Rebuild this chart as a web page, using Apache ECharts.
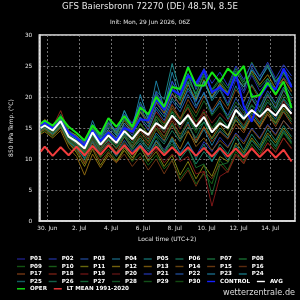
<!DOCTYPE html>
<html>
<head>
<meta charset="utf-8">
<script src="https://cdn.jsdelivr.net/npm/echarts@6/dist/echarts.min.js"></script>
<style>
  html, body { margin: 0; padding: 0; background: #000; }
  #chart { width: 300px; height: 300px; }
</style>
</head>
<body>
<div id="chart"></div>
<script>
// forecast lead times (hours after init 29 Jun 06Z = 08:00 local)
const leadHours = [6, 12, 24, 36, 48, 60, 72, 84, 96, 108, 120, 132, 144, 156, 168, 180, 192,
  204, 216, 228, 240, 252, 264, 276, 288, 300, 312, 324, 336, 348, 360, 372, 384];

const xTickLabels = ['30. Jun', '2. Jul', '4. Jul', '6. Jul', '8. Jul', '10. Jul', '12. Jul', '14. Jul'];

const oper = [15.7, 16.2, 15.4, 16.8, 15.2, 14.2, 13.0, 15.4, 14.0, 16.6, 15.2, 16.9, 15.2, 18.3, 17.2, 20.0, 18.4,
  21.6, 21.3, 24.8, 21.9, 21.8, 24.0, 22.4, 24.6, 23.4, 25.0, 20.0, 20.3, 22.3, 20.4, 22.5, 18.2];
const control = [15.3, 15.9, 14.9, 16.0, 14.3, 13.4, 12.2, 14.6, 12.9, 14.3, 13.0, 15.0, 14.4, 16.4, 16.2, 19.7, 17.9,
  21.2, 20.3, 23.5, 22.2, 24.3, 20.8, 21.6, 20.3, 23.8, 18.5, 16.0, 20.0, 22.0, 21.2, 24.6, 21.6];
const avg = [15.0, 15.4, 14.6, 16.1, 13.6, 12.8, 11.7, 14.3, 12.3, 13.8, 12.6, 14.5, 13.2, 14.8, 13.9, 15.8, 14.9,
  17.0, 15.6, 17.1, 15.2, 16.8, 14.3, 15.8, 15.0, 17.9, 16.5, 17.9, 16.8, 18.1, 17.0, 18.8, 17.3];
const ltMean = [11.2, 12.0, 10.5, 11.9, 10.6, 12.0, 10.6, 12.1, 10.7, 12.2, 10.8, 12.2, 10.8, 12.1, 10.7, 12.0, 10.6,
  11.9, 10.6, 11.9, 10.5, 11.8, 10.4, 11.8, 10.4, 11.7, 10.3, 11.7, 10.3, 11.6, 10.2, 11.5, 9.6];

const p01 = [15.2,15.8,14.8,16.4,14.0,13.2,12.0,14.8,12.6,14.5,13.0,15.8,14.2,17.5,15.6,19.0,17.2,20.5,18.6,21.0,19.2,22.4,19.8,21.5,19.0,22.8,20.6,23.5,21.0,22.6,20.4,23.2,21.5];
const p02 = [14.6,15.0,14.2,15.6,13.2,12.0,10.8,13.5,11.2,12.6,11.0,13.0,11.2,12.5,10.8,13.0,11.5,13.2,11.0,12.6,10.5,12.8,11.2,13.5,12.0,14.2,12.8,15.0,13.4,15.6,14.0,16.2,14.8];
const p03 = [15.0,15.6,14.6,16.2,13.8,13.4,12.6,15.0,13.2,15.2,13.8,16.6,14.8,18.2,16.0,20.4,18.0,22.6,20.2,25.0,21.2,24.2,20.5,22.0,20.2,23.6,21.0,24.8,22.6,25.2,22.0,24.6,22.8];
const p04 = [14.8,15.2,14.4,15.8,13.4,12.4,11.0,13.8,11.6,13.0,11.8,14.0,12.0,13.4,11.6,14.2,12.8,15.6,13.2,16.0,12.6,14.8,12.2,14.6,13.4,16.8,15.0,17.4,15.6,18.2,16.4,19.6,17.8];
const p05 = [15.4,16.0,15.0,16.6,14.2,13.6,12.8,15.6,13.6,16.0,14.4,17.8,15.2,19.2,16.4,21.0,19.6,25.4,21.0,23.8,20.0,22.6,19.4,21.2,18.6,21.8,19.2,22.0,20.0,23.0,20.6,22.4,20.2];
const p06 = [14.4,14.8,14.0,15.2,12.8,11.6,10.2,13.0,10.8,12.2,10.6,12.0,10.2,11.8,9.8,12.4,10.6,13.0,10.0,11.6,9.2,11.2,9.6,12.4,10.8,13.6,11.4,14.0,12.2,14.8,13.0,15.4,13.6];
const p07 = [15.0,15.4,14.4,16.0,13.4,12.6,11.2,14.0,11.8,13.4,12.2,14.2,12.6,15.0,13.2,16.4,14.2,17.6,15.0,16.8,14.6,16.0,13.2,15.0,13.8,16.2,14.8,16.6,15.2,17.2,15.6,17.8,16.0];
const p08 = [15.6,16.2,15.2,17.2,14.6,13.8,12.4,15.2,13.4,15.6,14.6,17.0,15.4,18.6,17.0,20.6,18.4,22.0,19.6,23.2,20.4,23.8,21.2,23.0,21.4,24.6,22.4,25.6,23.4,25.2,22.6,24.2,21.8];
const p09 = [14.2,14.6,13.6,15.0,12.4,11.2,9.6,12.2,10.2,11.6,9.8,11.4,9.6,11.0,9.0,10.6,8.4,9.8,6.8,8.6,6.0,7.6,6.0,9.8,8.2,11.2,9.6,12.4,10.8,13.2,11.6,14.2,12.4];
const p10 = [15.0,15.6,14.8,16.6,14.0,13.0,11.8,14.6,12.6,14.2,12.8,15.0,13.4,15.8,14.0,17.0,15.6,18.6,16.6,18.4,16.0,17.6,15.0,16.6,15.2,18.0,16.8,18.8,17.4,19.6,18.0,20.4,18.6];
const p11 = [14.4,14.8,13.8,15.2,12.6,11.0,8.8,11.6,9.0,11.0,9.6,11.8,10.2,12.0,9.6,11.2,8.8,10.6,7.4,9.6,6.8,9.0,7.2,10.4,9.6,12.6,11.0,13.4,11.8,14.2,12.6,15.0,13.2];
const p12 = [15.2,15.8,15.0,16.8,14.4,13.8,12.4,15.4,13.8,15.8,14.2,16.2,14.6,17.6,15.8,19.2,17.4,20.6,18.8,22.0,19.6,22.8,20.0,22.2,20.6,23.4,21.6,24.2,22.0,23.6,21.4,23.0,21.0];
const p13 = [14.0,14.4,13.4,14.6,11.8,10.4,7.4,10.8,8.6,10.6,9.4,11.4,9.8,12.2,10.4,12.8,11.0,13.6,11.6,14.4,12.6,15.2,13.4,15.6,13.8,16.4,14.6,17.0,15.2,17.6,15.8,18.2,16.4];
const p14 = [14.6,15.0,14.2,15.6,13.0,11.8,9.2,12.6,10.4,12.4,11.0,13.6,11.8,13.8,12.2,14.8,13.0,15.4,13.2,14.6,12.0,13.4,11.4,13.0,11.8,14.0,12.4,14.8,13.2,15.4,13.8,16.2,14.6];
const p15 = [15.2,15.6,14.6,16.4,13.8,12.8,11.4,14.2,12.4,14.0,12.6,14.8,13.0,15.6,14.0,16.8,15.2,18.2,16.4,19.6,17.4,20.2,17.8,19.8,18.0,21.2,19.4,21.8,19.6,22.4,20.2,23.0,20.8];
const p16 = [14.4,14.8,13.8,15.0,12.6,11.4,9.4,11.8,9.6,11.2,9.4,10.8,8.8,10.4,8.2,10.0,7.6,9.8,6.4,8.2,5.6,8.0,6.8,9.2,7.8,10.6,9.2,11.8,10.4,12.6,11.2,13.4,11.8];
const p17 = [14.8,15.4,14.4,16.4,13.8,12.6,10.6,13.6,11.4,13.2,11.6,13.8,12.2,14.6,12.8,15.4,13.6,16.2,14.0,15.6,13.0,15.2,12.8,14.4,13.2,15.6,14.2,16.8,15.0,17.2,15.2,17.6,15.6];
const p18 = [15.6,16.4,15.2,17.8,14.4,13.4,11.6,14.8,12.8,14.6,13.4,15.8,14.2,16.4,14.8,17.6,15.8,18.8,16.4,18.2,15.4,17.4,14.6,16.2,14.8,17.0,15.4,17.8,16.0,18.6,16.8,19.4,17.2];
const p19 = [15.0,15.6,14.6,16.2,13.4,12.2,10.4,13.0,11.0,12.8,11.0,12.6,10.6,12.2,10.0,11.6,9.4,10.8,9.6,10.4,7.6,8.0,2.4,7.2,8.0,10.8,9.4,12.0,10.4,12.6,11.0,13.4,11.6];
const p20 = [14.6,15.2,14.4,16.0,13.2,12.0,10.6,13.4,11.8,13.6,12.4,14.6,13.0,14.8,13.4,15.6,14.2,16.6,14.8,17.4,15.4,18.0,15.8,17.4,16.0,18.6,17.0,19.6,17.8,20.2,18.4,21.0,19.2];
const p21 = [15.4,16.0,15.0,16.6,14.2,13.6,12.6,15.4,13.6,15.8,14.6,17.2,15.8,18.8,17.2,20.8,18.6,22.4,20.4,23.6,21.6,24.6,22.2,24.0,21.8,25.0,22.8,25.4,23.2,25.6,23.0,25.2,23.4];
const p22 = [14.8,15.2,14.6,15.8,13.6,12.8,11.8,14.4,12.6,14.4,13.2,15.4,13.8,16.6,14.6,18.0,16.2,19.4,17.6,20.4,18.2,20.8,17.6,19.0,17.0,19.8,17.8,20.6,18.4,21.0,19.0,21.6,19.6];
const p23 = [15.2,15.8,14.8,16.4,14.2,13.4,12.2,16.2,13.2,16.6,13.8,17.8,15.0,20.4,16.4,22.6,18.2,24.0,19.8,22.4,18.6,20.6,17.2,19.4,16.4,18.6,16.8,19.8,17.6,20.4,18.2,21.2,18.8];
const p24 = [15.0,15.6,14.8,16.2,14.0,13.2,12.0,14.8,13.0,14.8,13.4,15.8,14.4,16.8,15.2,18.4,16.8,19.8,18.2,21.4,19.4,22.6,19.8,21.8,20.4,23.2,21.6,24.4,22.8,24.8,22.4,24.0,22.0];
const p25 = [14.6,15.0,14.0,15.4,12.8,11.8,10.0,12.8,10.6,12.2,10.4,12.4,10.8,12.6,10.4,13.0,11.0,13.4,10.8,12.8,10.0,12.4,9.6,11.6,9.8,12.2,10.6,13.0,11.4,13.8,12.0,14.6,12.8];
const p26 = [15.0,15.4,14.6,15.8,13.4,12.4,11.0,13.8,11.6,13.2,11.8,13.6,11.6,13.0,11.2,13.8,12.4,14.6,12.8,15.2,13.4,16.0,14.2,16.8,15.2,17.8,16.2,18.6,17.0,19.2,17.6,19.8,18.2];
const p27 = [15.4,16.0,15.2,17.0,14.4,13.6,12.2,15.0,13.4,15.4,14.0,16.4,15.0,17.8,16.2,19.6,17.8,21.2,19.4,22.6,20.6,23.4,21.0,22.6,20.8,24.2,22.0,23.8,21.6,23.0,21.2,23.8,21.6];
const p28 = [14.8,15.2,14.2,15.6,13.0,12.0,10.8,13.2,11.2,12.6,11.0,12.8,11.4,13.4,11.8,13.6,11.2,12.4,10.6,11.8,8.6,9.2,4.2,9.0,9.4,11.8,10.8,13.0,11.8,13.6,12.2,14.4,12.6];
const p29 = [15.2,15.6,14.8,16.2,13.8,13.0,11.6,14.4,12.4,14.0,12.8,14.8,13.4,15.6,13.8,16.8,15.2,17.8,16.0,18.8,16.8,19.4,17.0,18.6,16.6,19.2,17.4,20.0,18.2,20.6,18.8,21.4,19.4];
const p30 = [14.6,15.2,14.4,15.8,13.2,12.2,11.0,13.6,11.6,13.4,11.8,13.8,12.2,14.2,12.6,15.0,13.4,15.8,13.6,16.4,14.2,16.8,14.4,16.2,14.6,17.0,15.2,17.6,15.8,18.0,16.0,18.6,16.4];

const members = [p01, p02, p03, p04, p05, p06, p07, p08, p09, p10, p11, p12, p13, p14, p15,
  p16, p17, p18, p19, p20, p21, p22, p23, p24, p25, p26, p27, p28, p29, p30];
const memberColors = ['#2a2ab0', '#2a3cc0', '#2a5ab8', '#1f7fa0', '#1a9090', '#1a9070', '#1f9050', '#1f9040',
  '#1a701a', '#207a20', '#8a8a10', '#9a8010', '#9a7010', '#8a5a14', '#8a4a14', '#7a3a14',
  '#9a4a1a', '#9a2a1a', '#8a1a1a', '#7a1a1a', '#2a40d0', '#2a60c0', '#1f8ab0', '#1f9aa8',
  '#1a8080', '#1a8060', '#1a8a48', '#1a7030', '#1a6a22', '#1a6018'];

// x in days after 30 Jun 00:00 local (UTC+2)
const toDays = h => (h - 16) / 24;
const pairs = vals => vals.map((v, i) => [toDays(leadHours[i]), v]);

const font = 'DejaVu Sans';
const names = members.map((_, i) => 'P' + String(i + 1).padStart(2, '0'));

const series = members.map((vals, i) => ({
  name: names[i],
  type: 'line',
  data: pairs(vals),
  symbol: 'none',
  lineStyle: { width: 0.9, color: memberColors[i] },
  itemStyle: { color: memberColors[i] },
  z: 2
}));
series.push(
  { name: 'LT MEAN 1991-2020', type: 'line', data: pairs(ltMean), symbol: 'none',
    lineStyle: { width: 2, color: '#f23c3c' }, itemStyle: { color: '#f23c3c' }, z: 3 },
  { name: 'CONTROL', type: 'line', data: pairs(control), symbol: 'none',
    lineStyle: { width: 2, color: '#1420ff' }, itemStyle: { color: '#1420ff' }, z: 4 },
  { name: 'OPER', type: 'line', data: pairs(oper), symbol: 'none',
    lineStyle: { width: 2, color: '#14e614' }, itemStyle: { color: '#14e614' }, z: 5 },
  { name: 'AVG', type: 'line', data: pairs(avg), symbol: 'none',
    lineStyle: { width: 2, color: '#ffffff' }, itemStyle: { color: '#ffffff' }, z: 6 }
);

const thick = ['CONTROL', 'AVG', 'OPER', 'LT MEAN 1991-2020'];
const legendRow = (data, top) => ({
  data: data.map(n => ({ name: n, icon: 'rect', itemStyle: { opacity: thick.includes(n) ? 1 : 0.75 } })),
  left: 17, top: top, padding: 0,
  itemWidth: 8, itemHeight: 1.4, itemGap: 6.8, selectedMode: false,
  textStyle: { color: '#ffffff', fontSize: 5.6, fontWeight: 'bold', fontFamily: font }
});

const chart = echarts.init(document.getElementById('chart'));
chart.setOption({
  backgroundColor: '#000000',
  animation: false,
  title: [
    { text: 'GFS Baiersbronn 72270 (DE) 48.5N, 8.5E', left: 'center', top: 2, padding: 0,
      textStyle: { color: '#e6e6e6', fontSize: 8.6, fontWeight: 'normal', fontFamily: font } },
    { text: 'Init: Mon, 29 Jun 2026, 06Z', left: 'center', top: 19.5, padding: 0,
      textStyle: { color: '#e6e6e6', fontSize: 5.9, fontWeight: 'normal', fontFamily: font } },
    { text: 'wetterzentrale.de', right: 5, top: 289, padding: 0,
      textStyle: { color: '#dddddd', fontSize: 8.1, fontWeight: 'normal', fontFamily: font } }
  ],
  legend: [
    legendRow(names.slice(0, 8), 256),
    legendRow(names.slice(8, 16), 263.5),
    legendRow(names.slice(16, 24), 271),
    legendRow(names.slice(24, 30).concat(['CONTROL', 'AVG']), 278.5),
    legendRow(['OPER', 'LT MEAN 1991-2020'], 285.8)
  ],
  grid: { left: 34, right: 5, top: 35, bottom: 79, show: true,
    borderColor: '#e6e6e6', borderWidth: 1.5, backgroundColor: 'transparent' },
  xAxis: {
    type: 'value', min: -0.51, max: 15.55, minInterval: 2, maxInterval: 2, splitNumber: 8,
    name: 'Local time (UTC+2)', nameLocation: 'middle', nameGap: 15,
    nameTextStyle: { color: '#e6e6e6', fontSize: 6, fontFamily: font },
    axisLine: { show: true, onZero: false, lineStyle: { color: '#e6e6e6', width: 1.5 } },
    axisTick: { show: false },
    axisLabel: { color: '#e6e6e6', fontSize: 5.8, fontFamily: font, margin: 4,
      showMinLabel: false, showMaxLabel: false,
      formatter: v => {
        const k = Math.round(v / 2);
        return Math.abs(v - k * 2) < 1e-6 && xTickLabels[k] ? xTickLabels[k] : '';
      } },
    splitLine: { show: true, lineStyle: { color: '#8c8c8c', width: 0.8, type: [2, 2] } }
  },
  yAxis: {
    type: 'value', min: 0, max: 30, interval: 5,
    name: '850 hPa Temp. (°C)', nameLocation: 'middle', nameGap: 18,
    nameTextStyle: { color: '#e6e6e6', fontSize: 6, fontFamily: font },
    axisLine: { show: true, onZero: false, lineStyle: { color: '#e6e6e6', width: 1.5 } },
    axisTick: { show: false },
    axisLabel: { color: '#e6e6e6', fontSize: 5.8, fontFamily: font, margin: 7 },
    splitLine: { show: true, lineStyle: { color: '#8c8c8c', width: 0.8, type: [2, 2] } }
  },
  series: series
});
</script>
</body>
</html>
